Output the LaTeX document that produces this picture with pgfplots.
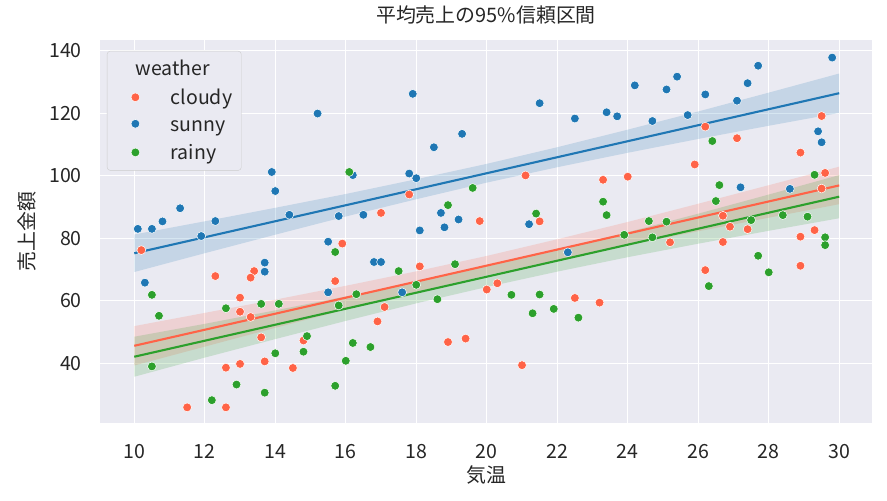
\documentclass[border=0pt]{standalone}
\usepackage{pgfplots}
\pgfplotsset{compat=1.18}
\usepackage{fontspec}
\setmainfont{Noto Sans CJK JP}
\definecolor{cl}{HTML}{FF6347}
\definecolor{sn}{HTML}{1F77B4}
\definecolor{rn}{HTML}{2CA02C}
\definecolor{bg}{HTML}{EAEAF2}
\definecolor{tx}{HTML}{262626}
\pgfplotsset{
  scat/.style={only marks, mark=*, mark size=4.4bp, color=#1,
    mark options={draw=white, fill=#1, line width=0.5bp},
    legend image code/.code={\path (0bp,0bp) (23bp,0bp); \draw[##1] plot coordinates {(19bp,7.5bp)};}},
  band/.style={fill=#1, fill opacity=0.18, draw=none, forget plot},
  fit/.style={color=#1, line width=2.1bp, forget plot},
}
\begin{document}
\begin{tikzpicture}
\path[use as bounding box] (-100bp,-78bp) rectangle (787bp,423bp);
\begin{axis}[
  at={(0,0)}, anchor=south west,
  scale only axis, width=772bp, height=383bp,
  xmin=9.027, xmax=30.93, ymin=20.9, ymax=143.42,
  xtick={10,12,...,30}, ytick={40,60,...,140},
  axis background/.style={fill=bg},
  axis line style={draw=none},
  major tick length=0pt,
  grid=major, major grid style={white, line width=1.4bp},
  /pgf/number format/assume math mode=true,
  tick label style={font=\fontsize{19.6}{23}\selectfont, text=tx},
  xticklabel style={anchor=base, inner sep=0pt, yshift=-35bp},
  yticklabel style={anchor=east, inner sep=0pt, xshift=-18bp},
  title={平均売上の95\%信頼区間},
  title style={at={(axis description cs:0.5,1)}, anchor=base, yshift=11.5bp, inner sep=0pt, font=\fontsize{20}{24}\selectfont, text=tx},
  xlabel={気温},
  xlabel style={at={(axis description cs:0.5,0)}, anchor=base, yshift=-59bp, inner sep=0pt, font=\fontsize{20}{24}\selectfont, text=tx},
  ylabel={売上金額},
  ylabel style={at={(axis description cs:-0.0946,0.5)}, anchor=center, inner sep=0pt, font=\fontsize{20}{24}\selectfont, text=tx},
  legend style={at={(axis description cs:0,1)}, anchor=north west, xshift=7bp, yshift=-11bp,
    fill=bg, draw=black!20, rounded corners=3bp, inner xsep=9bp, inner ysep=9bp,
    row sep=12bp, column sep=31bp, nodes={inner sep=0pt},
    font=\fontsize{19.6}{23}\selectfont, text=tx, cells={anchor=base west}},
]
\addlegendimage{empty legend}
\addlegendentry{\rule[-6bp]{0pt}{21bp}\hspace*{2bp}\makebox[0pt][c]{weather}}

% cloudy
\addplot[scat=cl] table {
17.8 94.0
17.0 88.1
19.8 85.5
10.2 76.2
15.9 78.3
13.4 69.5
13.3 67.4
12.3 67.9
18.1 71.0
15.7 66.3
20.0 63.6
17.1 58.0
16.9 53.4
13.0 61.0
13.0 56.5
13.3 54.8
13.6 48.3
14.8 47.3
12.6 38.6
13.0 39.8
13.7 40.6
14.5 38.5
18.9 46.8
19.4 47.9
11.5 25.9
12.6 25.9
29.5 119.1
26.2 115.7
27.1 112.0
28.9 107.4
25.9 103.6
21.1 100.1
23.3 98.7
24.0 99.7
29.6 100.9
29.5 95.9
21.5 85.4
26.7 87.2
26.9 83.7
27.4 82.9
29.3 82.6
25.2 78.7
26.7 78.8
28.9 80.5
26.2 69.8
28.9 71.2
20.3 65.6
22.5 60.9
23.2 59.4
21.0 39.4
};
\addlegendentry{\rule[-3bp]{0pt}{16bp}cloudy}
\addplot[band=cl] coordinates {(10,51.9)(12,56.13)(14,60.36)(16,64.79)(18,69.42)(20,74.35)(22,79.68)(24,85.21)(26,91.04)(28,96.97)(30,102.9)
(30,90.9)(28,86.57)(26,82.24)(24,77.81)(22,73.08)(20,68.15)(18,62.82)(16,57.19)(14,51.36)(12,45.33)(10,39.3)} -- cycle;

% sunny
\addplot[scat=sn] table {
17.9 126.2
15.2 119.9
19.3 113.4
18.5 109.1
13.9 101.2
16.2 100.2
17.8 100.7
18.0 99.2
14.0 95.1
11.3 89.6
18.7 88.1
10.8 85.4
12.3 85.5
14.4 87.5
15.8 87.1
16.5 87.5
19.2 86.0
10.1 83.0
10.5 83.0
18.1 82.5
18.8 83.5
11.9 80.7
15.5 78.9
13.7 72.2
13.7 69.3
16.8 72.4
17.0 72.4
15.5 62.7
17.6 62.7
10.3 65.8
29.8 137.8
27.7 135.2
25.4 131.7
24.2 128.9
25.1 127.6
27.4 129.6
26.2 126.0
21.5 123.2
27.1 124.0
22.5 118.3
23.4 120.3
23.7 119.0
24.7 117.5
25.7 119.4
29.4 114.2
29.5 110.7
27.2 96.3
28.6 95.8
21.2 84.5
22.3 75.5
};
\addlegendentry{\rule[-3bp]{0pt}{16bp}sunny}
\addplot[band=sn] coordinates {(10,81.2)(12,85.42)(14,89.74)(16,94.16)(18,98.88)(20,103.8)(22,109.12)(24,114.74)(26,120.56)(28,126.58)(30,132.7)
(30,120.1)(28,115.98)(26,111.76)(24,107.34)(22,102.72)(20,97.8)(18,92.48)(16,86.96)(14,81.14)(12,75.22)(10,69.2)} -- cycle;

% rainy
\addplot[scat=rn] table {
16.1 101.2
19.6 96.1
18.9 90.6
15.7 75.6
17.5 69.5
19.1 71.7
16.3 62.1
18.0 65.1
18.6 60.5
15.8 58.5
10.5 61.9
10.7 55.2
12.6 57.6
13.6 59.0
14.1 59.0
14.9 48.7
14.8 43.7
10.5 39.0
14.0 43.2
16.2 46.5
16.7 45.2
16.0 40.8
15.7 32.8
12.9 33.2
13.7 30.6
12.2 28.2
26.4 111.1
26.6 97.0
29.3 100.3
23.3 91.7
23.4 87.4
21.4 87.9
26.5 91.9
24.6 85.5
25.1 85.3
27.5 85.8
28.4 87.4
29.1 86.9
23.9 81.1
24.7 80.3
29.6 80.3
29.6 77.8
27.7 74.4
28.0 69.1
26.3 64.7
20.7 61.9
21.5 62.0
21.3 56.0
21.9 57.4
22.6 54.6
};
\addlegendentry{\rule[-3bp]{0pt}{16bp}rainy}
\addplot[band=rn] coordinates {(10,48.5)(12,52.62)(14,56.94)(16,61.36)(18,65.98)(20,71.0)(22,76.32)(24,81.94)(26,87.86)(28,93.98)(30,100.2)
(30,86.4)(28,82.38)(26,78.26)(24,73.94)(22,69.32)(20,64.4)(18,59.18)(16,53.56)(14,47.74)(12,41.82)(10,35.7)} -- cycle;

% fitted lines
\addplot[fit=cl] coordinates {(10,45.6) (30,96.9)};
\addplot[fit=sn] coordinates {(10,75.2) (30,126.4)};
\addplot[fit=rn] coordinates {(10,42.1) (30,93.3)};
\end{axis}
\end{tikzpicture}
\end{document}
